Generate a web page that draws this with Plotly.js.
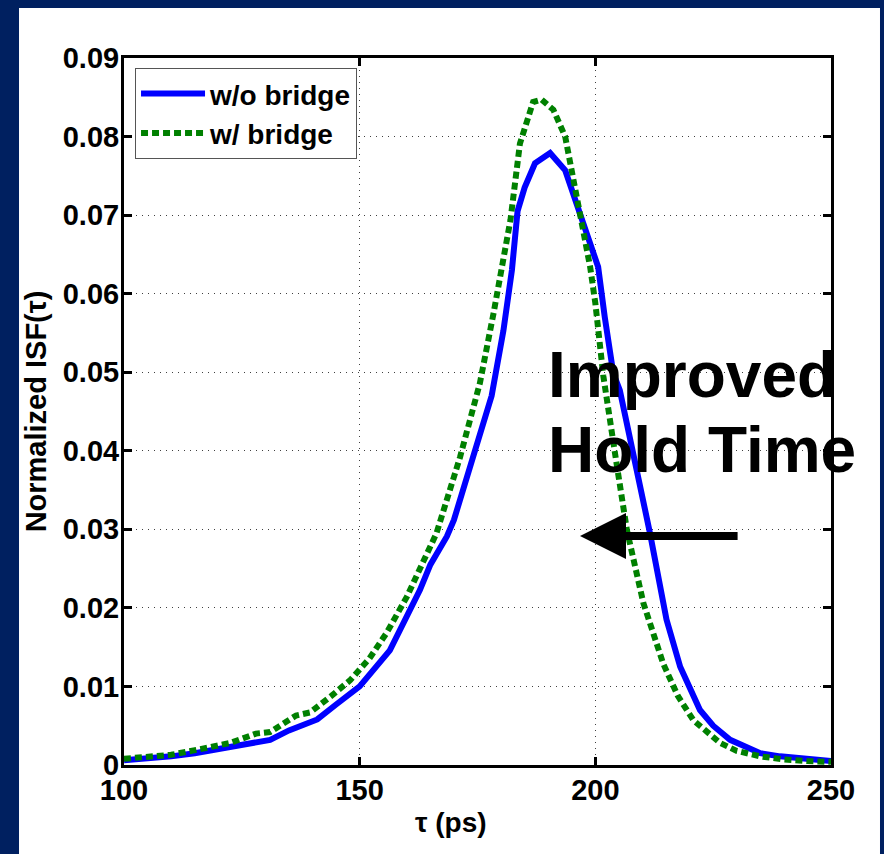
<!DOCTYPE html>
<html>
<head>
<meta charset="utf-8">
<script src="https://cdn.plot.ly/plotly-3.0.1.min.js"></script>
<style>
html, body { margin: 0; padding: 0; background: #002060; }
#chart { width: 884px; height: 854px; }
</style>
</head>
<body>
<div id="chart"></div>
<script>
// Data
const seriesNames = ["w/o bridge", "w/ bridge"];

const tauNoBridge = [100, 105, 110, 115, 120, 125, 131, 135, 141, 145, 150, 156.4, 160, 162.8, 165, 168.5, 170, 174.8, 178, 180.5, 182.3, 183.5, 185, 187.2, 190.4, 193.6, 196.8, 200.6, 202, 203.8, 205.2, 208.8, 211.6, 215.1, 218, 222.2, 225, 228.6, 232, 235, 239.2, 245, 250];
const isfNoBridge = [0.0006, 0.0008, 0.0011, 0.0015, 0.0020, 0.0025, 0.0032, 0.0044, 0.0058, 0.0077, 0.0100, 0.0146, 0.0188, 0.0223, 0.0255, 0.0291, 0.0312, 0.0409, 0.0470, 0.0553, 0.0630, 0.0705, 0.0735, 0.0766, 0.0779, 0.0757, 0.0702, 0.0634, 0.0570, 0.0499, 0.0477, 0.0376, 0.0295, 0.0185, 0.0125, 0.0070, 0.0050, 0.0032, 0.0022, 0.0015, 0.0011, 0.0007, 0.0005];

const tauBridge = [100, 105, 110, 116, 122.5, 128, 131, 136.5, 139.5, 144, 148, 152, 155.7, 160, 162.1, 166.3, 171.3, 175.5, 178.4, 180.5, 182, 184, 186.8, 188.6, 191.1, 193.6, 195.3, 197.1, 198.9, 200, 201.7, 204.5, 206.7, 210.2, 214.4, 217.5, 220.8, 226.5, 230, 235, 240, 245, 250];
const isfBridge = [0.0008, 0.0010, 0.0013, 0.0020, 0.0028, 0.0040, 0.0042, 0.0063, 0.0067, 0.0088, 0.0108, 0.0135, 0.0168, 0.0214, 0.0240, 0.0295, 0.0392, 0.0486, 0.0575, 0.0639, 0.0694, 0.0791, 0.0844, 0.0847, 0.0834, 0.0800, 0.0749, 0.0694, 0.0634, 0.0588, 0.0495, 0.0384, 0.0299, 0.0206, 0.0129, 0.0088, 0.0057, 0.0028, 0.0018, 0.0011, 0.0007, 0.0005, 0.0004];

const xTickVals = [100, 150, 200, 250];
const xTickText = ["100", "150", "200", "250"];
const yTickVals = [0, 0.01, 0.02, 0.03, 0.04, 0.05, 0.06, 0.07, 0.08, 0.09];
const yTickText = ["0", "0.01", "0.02", "0.03", "0.04", "0.05", "0.06", "0.07", "0.08", "0.09"];

const annotationLines = ["Improved", "Hold Time"];
const xTitle = "τ (ps)";
const yTitle = "Normalized ISF(τ)";

const FONT = "'Liberation Sans', Arial, Helvetica, sans-serif";

const traces = [
  {
    x: tauNoBridge, y: isfNoBridge, name: seriesNames[0],
    type: "scatter", mode: "lines",
    line: { color: "#0000ff", width: 6 }
  },
  {
    x: tauBridge, y: isfBridge, name: seriesNames[1],
    type: "scatter", mode: "lines",
    line: { color: "#008000", width: 6, dash: "7px,4px" }
  }
];

const axisCommon = {
  showline: true, linecolor: "#000", linewidth: 3, mirror: "ticks",
  ticks: "inside", ticklen: 8, tickwidth: 3, tickcolor: "#000",
  showgrid: true, gridcolor: "rgba(0,0,0,0.75)", gridwidth: 1, griddash: "1px,5px",
  zeroline: false,
  tickfont: { family: FONT, size: 29, color: "#000", weight: "bold" }
};

const layout = {
  width: 884, height: 854,
  margin: { l: 124, r: 53, t: 58, b: 89 },
  paper_bgcolor: "#002060",
  plot_bgcolor: "#ffffff",
  showlegend: true,
  legend: {
    x: 0.0156, y: 0.986, xanchor: "left", yanchor: "top",
    bgcolor: "#ffffff", bordercolor: "#555", borderwidth: 1,
    font: { family: FONT, size: 28, color: "#000", weight: "bold" },
    tracegroupgap: 0, itemwidth: 64
  },
  xaxis: Object.assign({}, axisCommon, {
    range: [100, 250], tickmode: "array", tickvals: xTickVals, ticktext: xTickText,
    ticklabelstandoff: -3
  }),
  yaxis: Object.assign({}, axisCommon, {
    range: [0, 0.09], tickmode: "array", tickvals: yTickVals, ticktext: yTickText,
    ticklabelstandoff: -4,
    title: { text: yTitle, font: { family: FONT, size: 29, color: "#000", weight: "bold" }, standoff: 8 }
  }),
  shapes: [
    { type: "rect", xref: "paper", yref: "paper", layer: "below",
      x0: -0.1485, x1: 1.0693, y0: -0.13, y1: 1.0707,
      fillcolor: "#ffffff", line: { width: 0 } }
  ],
  annotations: [
    { xref: "paper", yref: "paper", x: 0.462, y: -0.081, xanchor: "center", yanchor: "middle",
      text: xTitle, showarrow: false,
      font: { family: FONT, size: 28, color: "#000", weight: "bold" } },
    { xref: "x", yref: "y", x: 189.6, y: 0.0497, xanchor: "left", yanchor: "middle",
      text: annotationLines[0], showarrow: false,
      font: { family: FONT, size: 64, color: "#000", weight: "bold" } },
    { xref: "x", yref: "y", x: 189.6, y: 0.0401, xanchor: "left", yanchor: "middle",
      text: annotationLines[1], showarrow: false,
      font: { family: FONT, size: 64, color: "#000", weight: "bold" } },
    { xref: "x", yref: "y", x: 196.75, y: 0.02915, axref: "x", ayref: "y", ax: 230.5, ay: 0.02915,
      text: "", showarrow: true, arrowhead: 2, arrowsize: 1.15, arrowwidth: 8, arrowcolor: "#000", standoff: 0 }
  ]
};

Plotly.newPlot("chart", traces, layout, { displayModeBar: false, staticPlot: true });
</script>
</body>
</html>
